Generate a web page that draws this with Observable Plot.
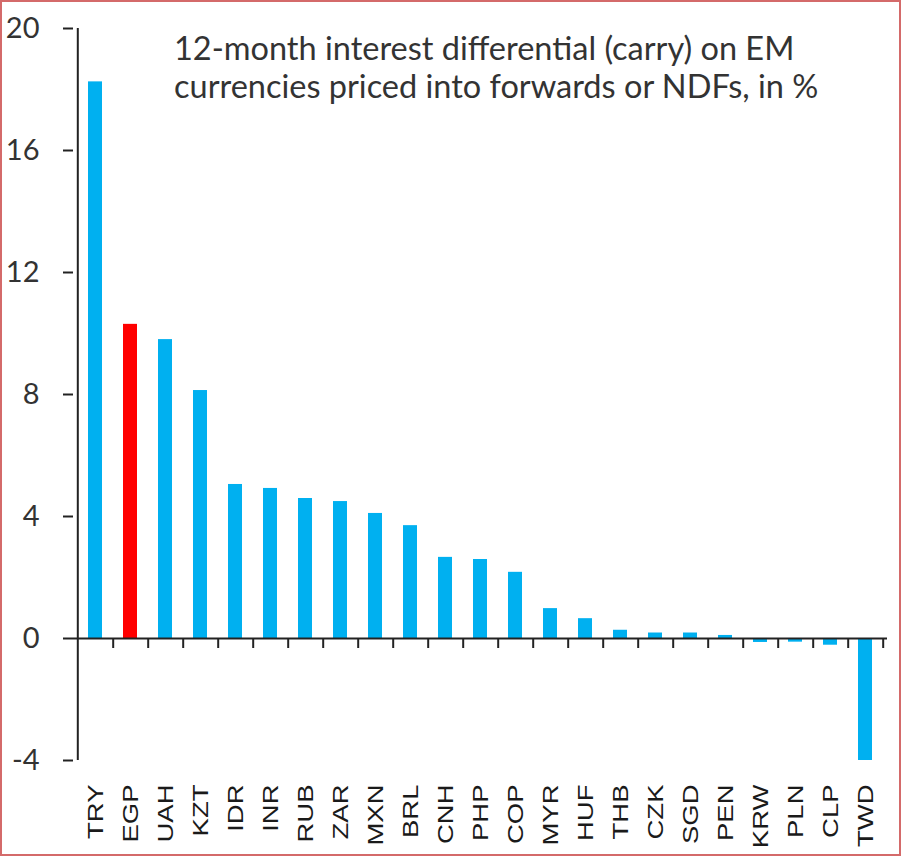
<!DOCTYPE html>
<html>
<head>
<meta charset="utf-8">
<script src="https://cdn.jsdelivr.net/npm/d3@7"></script>
<script src="https://cdn.jsdelivr.net/npm/@observablehq/plot@0.6"></script>
<style>
  html, body { margin: 0; padding: 0; background: #fff; }
  #wrap { position: relative; width: 901px; height: 856px; overflow: hidden; }
  #title { position: absolute; left: 174px; top: 29px; font-family: Lato, "Open Sans", sans-serif; font-size: 32.5px; line-height: 38px; color: #333; white-space: nowrap; }
  #border { position: absolute; inset: 0; border: 2px solid #d46a6a; pointer-events: none; }
</style>
</head>
<body>
<div id="wrap">
  <div id="chart"></div>
  <div id="title">12-month interest differential (carry) on EM<br>currencies priced into forwards or NDFs, in %</div>
  <div id="border"></div>
</div>
<script>
const categories = ["TRY","EGP","UAH","KZT","IDR","INR","RUB","ZAR","MXN","BRL","CNH","PHP","COP","MYR","HUF","THB","CZK","SGD","PEN","KRW","PLN","CLP","TWD"];
const values = [18.25, 10.3, 9.8, 8.13, 5.05, 4.92, 4.59, 4.49, 4.1, 3.7, 2.66, 2.59, 2.17, 0.98, 0.65, 0.27, 0.18, 0.18, 0.1, -0.13, -0.12, -0.22, -4.0];
const highlighted = ["EGP"];
const yTicks = [-4, 0, 4, 8, 12, 16, 20];

const data = categories.map((c, i) => ({cat: c, value: values[i]}));

const W = 901, H = 856, mL = 73, mR = 14, mT = 28, mB = 96;
const step = (W - mL - mR) / categories.length;
const pxPerUnit = (H - mT - mB) / (20 - (-4));
const tickLen = 10 / pxPerUnit;

const chart = Plot.plot({
  width: W, height: H,
  marginLeft: mL, marginRight: mR, marginTop: mT, marginBottom: mB,
  style: {background: "white", color: "#222"},
  x: {domain: categories, paddingInner: 0.6, paddingOuter: 0.3, label: null},
  y: {domain: [-4, 20], label: null},
  marks: [
    Plot.barY(data.filter(d => !highlighted.includes(d.cat)), {x: "cat", y: "value", fill: "#00b0f0"}),
    Plot.barY(data.filter(d => highlighted.includes(d.cat)), {x: "cat", y: "value", fill: "#ff0000"}),
    Plot.ruleY([0], {stroke: "#222", strokeWidth: 2}),
    Plot.ruleX(categories.slice(0, 1), {y1: -4, y2: 20, dx: -step / 2, stroke: "#222", strokeWidth: 2}),
    Plot.ruleX(categories, {y1: 0, y2: -tickLen, dx: step / 2, stroke: "#222", strokeWidth: 2}),
    Plot.axisY({ticks: yTicks, tickFormat: d => String(d), tickSize: 10, tickPadding: 24, fontSize: 29, fontFamily: "Lato, sans-serif", stroke: "#222", strokeWidth: 2, fill: "#333", label: null}),
    Plot.axisX({tickSize: 0, tickPadding: 24, tickRotate: -90, fontSize: 22, fontFamily: "Liberation Sans, Arial, sans-serif", fill: "#1a1a1a", label: null})
  ]
});
document.getElementById("chart").appendChild(chart);
chart.querySelectorAll('g[aria-label="x-axis tick label"] text').forEach(t => {
  const tr = t.getAttribute("transform") || "";
  t.setAttribute("transform", tr + " scale(1.25,1)");
});
</script>
</body>
</html>
